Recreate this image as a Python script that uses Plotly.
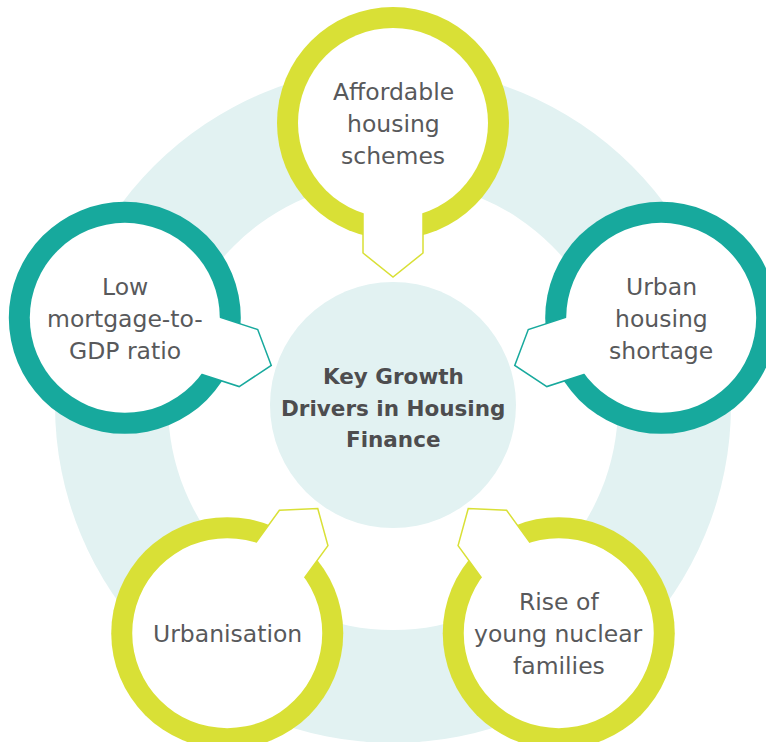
import math
import plotly.graph_objects as go

# ---- data ----
title_lines = ["Key Growth", "Drivers in Housing", "Finance"]
driver_labels = [
    ["Affordable", "housing", "schemes"],
    ["Urban", "housing", "shortage"],
    ["Rise of", "young nuclear", "families"],
    ["Urbanisation"],
    ["Low", "mortgage-to-", "GDP ratio"],
]
driver_colors = ["#D9E036", "#17A99D", "#D9E036", "#D9E036", "#17A99D"]

# ---- geometry / style ----
W, H = 766, 742
CX, CY = 393, 405
RING_OUT, RING_IN, CORE_R = 338, 225, 123
ORBIT = 282
B_OUT, B_IN = 116, 95
PTR_HALF, PTR_SIDE, PTR_TIP = 30, 130, 154
LIGHT = "#E2F2F2"
TEXT = "#58595B"
LINE_GAP = 32
FONT = "DejaVu Sans"

shapes = []
annotations = []


def circle(cx, cy, r, color):
    return dict(type="circle", xref="x", yref="y", x0=cx - r, x1=cx + r,
                y0=cy - r, y1=cy + r, fillcolor=color, line=dict(width=0),
                layer="above")


# background ring + core
shapes.append(circle(CX, CY, RING_OUT, LIGHT))
shapes.append(circle(CX, CY, RING_IN, "white"))
shapes.append(circle(CX, CY, CORE_R, LIGHT))

n = len(driver_labels)
for i, (lines, col) in enumerate(zip(driver_labels, driver_colors)):
    ang = math.radians(90 - 360 / n * i)
    bx = CX + ORBIT * math.cos(ang)
    by = CY - ORBIT * math.sin(ang)
    # unit vector toward centre, and perpendicular
    ux, uy = (CX - bx) / ORBIT, (CY - by) / ORBIT
    vx, vy = -uy, ux

    def pt(a, b):
        return (bx + a * ux + b * vx, by + a * uy + b * vy)

    shapes.append(circle(bx, by, B_OUT, col))
    pts = [pt(60, -PTR_HALF), pt(PTR_SIDE, -PTR_HALF), pt(PTR_TIP, 0),
           pt(PTR_SIDE, PTR_HALF), pt(60, PTR_HALF)]
    path = "M " + " L ".join(f"{x:.2f},{y:.2f}" for x, y in pts) + " Z"
    shapes.append(dict(type="path", xref="x", yref="y", path=path,
                       fillcolor="white", line=dict(color=col, width=1.5),
                       layer="above"))
    shapes.append(circle(bx, by, B_IN, "white"))

    k = len(lines)
    for j, t in enumerate(lines):
        ty = by + 1 + (j - (k - 1) / 2) * LINE_GAP
        annotations.append(dict(x=bx, y=ty, xref="x", yref="y", text=t,
                                showarrow=False, xanchor="center",
                                yanchor="middle",
                                font=dict(family=FONT, size=23.5,
                                          color=TEXT)))

k = len(title_lines)
for j, t in enumerate(title_lines):
    ty = CY + 3 + (j - (k - 1) / 2) * 31.5
    annotations.append(dict(x=CX, y=ty, xref="x", yref="y", text=f"<b>{t}</b>",
                            showarrow=False, xanchor="center", yanchor="middle",
                            font=dict(family=FONT, size=21.5,
                                      color="#4D4D4F")))

fig = go.Figure()
fig.add_trace(go.Scatter(x=[0, W], y=[0, H], mode="markers",
                         marker=dict(opacity=0), hoverinfo="skip",
                         showlegend=False))
fig.update_layout(
    width=W, height=H, margin=dict(l=0, r=0, t=0, b=0),
    paper_bgcolor="white", plot_bgcolor="white",
    xaxis=dict(range=[0, W], visible=False, fixedrange=True),
    yaxis=dict(range=[H, 0], visible=False, fixedrange=True),
    shapes=shapes, annotations=annotations, showlegend=False,
)
fig.write_html("out.html", post_script="document.body.style.margin='0';",
               config={"displayModeBar": False})
